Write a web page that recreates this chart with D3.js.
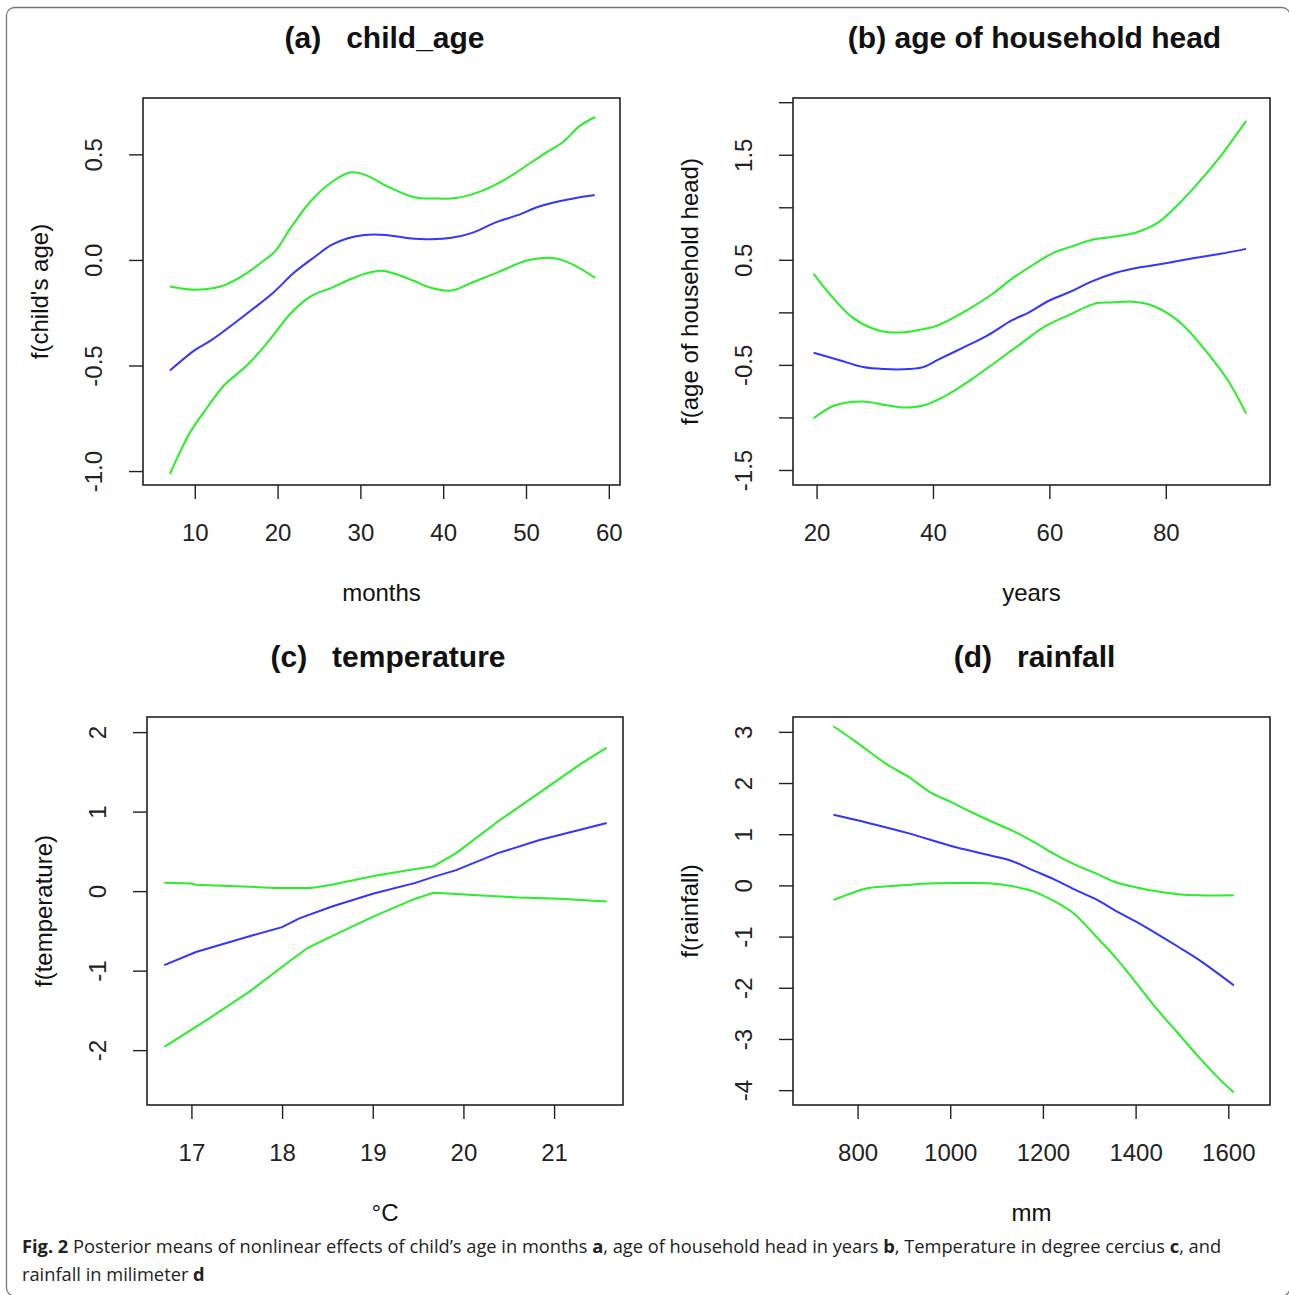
<!DOCTYPE html>
<meta charset="utf-8">
<style>
body { margin: 0; background: #fff; }
svg text { font-family: "Liberation Sans", Arial, sans-serif; fill: #111; }
.ttl { font-weight: bold; font-size: 30px; white-space: pre; }
.lab { font-size: 24px; }
.tick text { font-size: 24px; fill: #222; }
.tick line { stroke: #222; stroke-width: 1.4px; }
.box { fill: none; stroke: #222; stroke-width: 1.6px; }
.cap { font-family: "Open Sans", "Noto Sans", sans-serif; font-size: 18px; fill: #222; }
</style>
<body>
<div id="fig"></div>
<script src="https://cdn.jsdelivr.net/npm/d3@7"></script>
<script>
// values: [x, f(x)]

// (a) child_age
var childMean = [[7,-0.524],[10,-0.427],[12,-0.38],[16.5,-0.248],[19.5,-0.154],[22,-0.06],[24.5,0.015],[26.5,0.071],[28.5,0.103],[30.5,0.118],[33,0.118],[36.5,0.10],[38.5,0.098],[41,0.105],[43.5,0.128],[46.5,0.18],[49,0.212],[51.5,0.252],[54,0.278],[56.5,0.297],[58.3,0.308]];
var childUpper = [[7,-0.126],[9.75,-0.141],[12.5,-0.132],[13.75,-0.117],[16,-0.07],[18,-0.013],[19.75,0.043],[21.5,0.147],[24,0.278],[26.5,0.368],[28.75,0.414],[30.5,0.404],[33.5,0.344],[36.5,0.297],[39,0.291],[41.5,0.293],[44.5,0.325],[47.5,0.382],[52,0.498],[54.5,0.56],[56.5,0.635],[58.35,0.677]];
var childLower = [[7,-1.013],[8.5,-0.887],[9.5,-0.812],[11.5,-0.699],[13.5,-0.596],[16.5,-0.492],[19,-0.38],[21.5,-0.257],[24,-0.173],[26.5,-0.132],[29,-0.088],[30.5,-0.066],[32.5,-0.051],[34.5,-0.07],[36.5,-0.10],[38.5,-0.132],[41,-0.145],[43.5,-0.107],[46.5,-0.06],[50,-0.004],[52,0.009],[53.75,0.006],[55.5,-0.019],[58.35,-0.085]];
var childXTicks = [10, 20, 30, 40, 50, 60];
var childYTicks = [-1, -0.5, 0, 0.5];
var childYLabels = ["-1.0", "-0.5", "0.0", "0.5"];

// (b) age of household head
var headMean = [[19.5,-0.385],[23.8,-0.453],[28,-0.521],[31.6,-0.54],[35.8,-0.54],[38.3,-0.521],[40.8,-0.453],[45,-0.34],[49.4,-0.219],[53.6,-0.075],[56.5,0.0],[60,0.113],[63.6,0.196],[67.1,0.29],[71.4,0.377],[74.9,0.423],[79.2,0.46],[84.2,0.51],[89.2,0.555],[93.8,0.604]];
var headUpper = [[19.5,0.366],[22.3,0.17],[25.9,-0.038],[29.5,-0.151],[32.3,-0.189],[35.1,-0.189],[38,-0.162],[40.8,-0.125],[45.8,0.019],[50.1,0.17],[53.6,0.321],[57.2,0.453],[60.7,0.566],[63.6,0.623],[67.1,0.687],[70.7,0.717],[74.6,0.755],[78.5,0.849],[82,1.019],[85.6,1.234],[89.2,1.472],[93.8,1.823]];
var headLower = [[19.5,-1.008],[23.1,-0.887],[28,-0.849],[32.3,-0.887],[35.1,-0.906],[38.3,-0.887],[42.2,-0.792],[46.5,-0.642],[50.8,-0.472],[55,-0.302],[59.3,-0.132],[63.6,-0.019],[67.8,0.083],[70.7,0.094],[74.2,0.102],[77.1,0.075],[80.6,-0.019],[83.5,-0.151],[87,-0.377],[90.6,-0.642],[93.8,-0.962]];
var headXTicks = [20, 40, 60, 80];
var headYTicks = [-1.5, -1, -0.5, 0, 0.5, 1, 1.5, 2];
var headYLabels = ["-1.5", "", "-0.5", "", "0.5", "", "1.5", ""];

// (c) temperature
var tempMean = [[16.7,-0.93],[17.05,-0.766],[17.64,-0.567],[18,-0.453],[18.19,-0.343],[18.55,-0.194],[19.01,-0.03],[19.47,0.104],[19.67,0.179],[19.92,0.264],[20.38,0.478],[20.84,0.642],[21.2,0.746],[21.58,0.856]];
var tempUpper = [[16.7,0.104],[17,0.095],[17.05,0.08],[17.64,0.055],[17.91,0.04],[18.32,0.04],[18.55,0.08],[19.01,0.189],[19.47,0.279],[19.67,0.313],[19.92,0.478],[20.38,0.876],[20.84,1.239],[21.29,1.597],[21.58,1.806]];
var tempLower = [[16.7,-1.96],[17.18,-1.612],[17.64,-1.264],[18.1,-0.866],[18.28,-0.716],[18.55,-0.567],[19.01,-0.318],[19.47,-0.095],[19.67,-0.02],[19.83,-0.03],[20.2,-0.055],[20.61,-0.08],[21.06,-0.095],[21.58,-0.129]];
var tempXTicks = [17, 18, 19, 20, 21];
var tempYTicks = [-2, -1, 0, 1, 2];
var tempYLabels = ["-2", "-1", "0", "1", "2"];

// (d) rainfall
var rainMean = [[748,1.38],[821,1.225],[911,1.016],[1000,0.775],[1089,0.581],[1134,0.473],[1179,0.295],[1223,0.124],[1268,-0.078],[1313,-0.264],[1357,-0.496],[1402,-0.713],[1446,-0.946],[1491,-1.194],[1536,-1.45],[1612,-1.953]];
var rainUpper = [[748,3.109],[795,2.814],[866,2.349],[911,2.116],[955,1.829],[1000,1.636],[1045,1.434],[1089,1.248],[1134,1.07],[1179,0.853],[1223,0.62],[1268,0.411],[1313,0.24],[1357,0.062],[1402,-0.039],[1446,-0.116],[1491,-0.171],[1536,-0.194],[1612,-0.194]];
var rainLower = [[748,-0.287],[777,-0.186],[821,-0.054],[866,-0.016],[955,0.039],[1045,0.047],[1089,0.039],[1134,-0.016],[1179,-0.116],[1223,-0.302],[1268,-0.558],[1313,-0.984],[1357,-1.411],[1402,-1.915],[1446,-2.419],[1491,-2.884],[1536,-3.349],[1580,-3.775],[1612,-4.047]];
var rainXTicks = [800, 1000, 1200, 1400, 1600];
var rainYTicks = [-4, -3, -2, -1, 0, 1, 2, 3];
var rainYLabels = ["-4", "-3", "-2", "-1", "0", "1", "2", "3"];

var panels = [
  {title: "(a)   child_age", xlab: "months", ylab: "f(child's age)",
   box: [143, 98, 620, 485], xd: [3.75, 61.35], yd: [-1.066, 0.767],
   xt: childXTicks, yt: childYTicks, yl: childYLabels,
   mean: childMean, upper: childUpper, lower: childLower, curve: d3.curveCatmullRom},
  {title: "(b) age of household head", xlab: "years", ylab: "f(age of household head)",
   box: [793, 98, 1270, 485], xd: [15.95, 97.9], yd: [-1.643, 2.04],
   xt: headXTicks, yt: headYTicks, yl: headYLabels,
   mean: headMean, upper: headUpper, lower: headLower, curve: d3.curveCatmullRom},
  {title: "(c)   temperature", xlab: "°C", ylab: "f(temperature)",
   box: [147, 717, 623, 1105], xd: [16.51, 21.76], yd: [-2.69, 2.19],
   xt: tempXTicks, yt: tempYTicks, yl: tempYLabels,
   mean: tempMean, upper: tempUpper, lower: tempLower, curve: d3.curveLinear},
  {title: "(d)   rainfall", xlab: "mm", ylab: "f(rainfall)",
   box: [793, 717, 1270, 1105], xd: [660.7, 1690], yd: [-4.29, 3.29],
   xt: rainXTicks, yt: rainYTicks, yl: rainYLabels,
   mean: rainMean, upper: rainUpper, lower: rainLower, curve: d3.curveCatmullRom}
];

var W = 1289, H = 1295;
var svg = d3.select("#fig").append("svg")
    .attr("width", W)
    .attr("height", H);

// outer figure frame (right and bottom edges fall just past the picture border)
svg.append("rect")
    .attr("x", 6.5).attr("y", 7.5)
    .attr("width", 1283.5).attr("height", 1288.5)
    .attr("rx", 8)
    .attr("fill", "none")
    .attr("stroke", "#777")
    .attr("stroke-width", 1.3);

panels.forEach(function(p) {
  var x0 = p.box[0], y0 = p.box[1], x1 = p.box[2], y1 = p.box[3];
  var x = d3.scaleLinear().domain(p.xd).range([x0, x1]);
  var y = d3.scaleLinear().domain(p.yd).range([y1, y0]);
  var g = svg.append("g");

  var xa = g.append("g")
      .attr("transform", "translate(0," + y1 + ")")
      .call(d3.axisBottom(x).tickValues(p.xt).tickSize(14).tickSizeOuter(0)
        .tickFormat(d3.format("d")));
  xa.select(".domain").remove();
  xa.selectAll("text").attr("dy", null).attr("y", 56).attr("fill", "#222");

  var ya = g.append("g")
      .attr("transform", "translate(" + x0 + ",0)")
      .call(d3.axisLeft(y).tickValues(p.yt).tickSize(14).tickSizeOuter(0)
        .tickFormat(function(d, i) { return p.yl[i]; }));
  ya.select(".domain").remove();
  ya.selectAll("text")
      .attr("x", null).attr("dy", null)
      .attr("text-anchor", "middle")
      .attr("fill", "#222")
      .attr("transform", "translate(-41,0) rotate(-90)");

  var line = d3.line()
      .x(function(d) { return x(d[0]); })
      .y(function(d) { return y(d[1]); })
      .curve(p.curve);

  [["upper", "#2aee2a"], ["lower", "#2aee2a"], ["mean", "#3535ff"]].forEach(function(s) {
    g.append("path")
        .datum(p[s[0]])
        .attr("d", line)
        .attr("fill", "none")
        .attr("stroke", s[1])
        .attr("stroke-width", 2);
  });

  g.append("rect").attr("class", "box")
      .attr("x", x0).attr("y", y0)
      .attr("width", x1 - x0).attr("height", y1 - y0);

  var cx = (x0 + x1) / 2;
  g.append("text").attr("class", "ttl")
      .attr("x", cx + 3).attr("y", y0 - 50)
      .attr("text-anchor", "middle")
      .text(p.title);
  g.append("text").attr("class", "lab")
      .attr("x", cx).attr("y", y1 + 116)
      .attr("text-anchor", "middle")
      .text(p.xlab);
  g.append("text").attr("class", "lab")
      .attr("text-anchor", "middle")
      .attr("transform", "translate(" + (x0 - 95) + "," + ((y0 + y1) / 2) + ") rotate(-90)")
      .text(p.ylab);
});

// caption
var capLines = [
  [["Fig. 2", true], [" Posterior means of nonlinear effects of child\u2019s age in months ", false], ["a", true],
   [", age of household head in years ", false], ["b", true], [", Temperature in degree cercius ", false],
   ["c", true], [", and", false]],
  [["rainfall in milimeter ", false], ["d", true]]
];
var capTexts = capLines.map(function(parts, i) {
  var t = svg.append("text").attr("class", "cap")
      .attr("x", 0).attr("y", 0)
      .attr("transform", "translate(22," + (1253 + i * 28) + ")");
  parts.forEach(function(pt) {
    t.append("tspan").attr("font-weight", pt[1] ? "bold" : null).text(pt[0]);
  });
  return t;
});
var sx = 1200 / capTexts[0].node().getComputedTextLength();
capTexts.forEach(function(t, i) {
  t.attr("transform", "translate(22," + (1253 + i * 28) + ") scale(" + sx + ",1)");
});
</script>
